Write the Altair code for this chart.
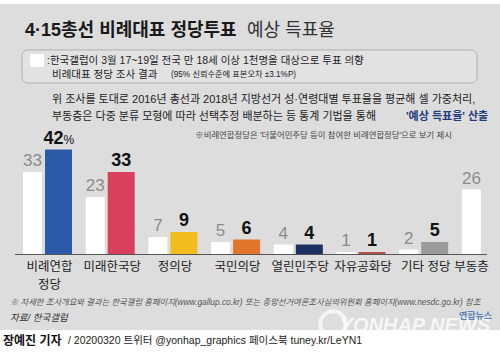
import altair as alt
import pandas as pd

F = "Liberation Sans, Noto Sans CJK KR"

parties = ["비례연합정당", "미래한국당", "정의당", "국민의당", "열린민주당", "자유공화당", "기타 정당", "부동층"]
labels = ["비례연합\n정당", "미래한국당", "정의당", "국민의당", "열린민주당", "자유공화당", "기타 정당", "부동층"]
survey = [33, 23, 7, 5, 4, 1, 2, 26]
forecast = [42, 33, 9, 6, 4, 1, 5, None]
colors = ["#2c5aa8", "#d9405d", "#f3bd1d", "#e2762c", "#1c2f64", "#b4504a", "#9b9b9b", "#ffffff"]
suffix = ["%", "", "", "", "", "", "", ""]

df = pd.DataFrame({"party": parties, "label": labels, "survey": survey,
                   "forecast": forecast, "suffix": suffix})

xs = alt.X("party:N", sort=parties, axis=None,
           scale=alt.Scale(domain=parties, range=[16.15, 517.75], paddingInner=0, paddingOuter=0))
ysc = alt.Scale(domain=[0, 100], range=[254.5, 4.5], nice=False, zero=False)

one = pd.DataFrame({"k": [0]})


def txt(s, x, y, size, color="#222222", align="left", weight="normal", style="normal", baseline="middle", **kw):
    return alt.Chart(one).mark_text(text=s, fontSize=size, color=color, align=align, font=F,
                                    fontWeight=weight, fontStyle=style, baseline=baseline, **kw).encode(
        x=alt.value(x), y=alt.value(y))


bg = alt.Chart(one).mark_rect(color="#dddddd").encode(
    x=alt.value(0), x2=alt.value(500), y=alt.value(4), y2=alt.value(330))
box = alt.Chart(one).mark_rect(fill="#e2e2e2", stroke="#b0b0b0", strokeWidth=1, cornerRadius=6).encode(
    x=alt.value(22), x2=alt.value(477), y=alt.value(50), y2=alt.value(83))
sq = alt.Chart(one).mark_rect(color="#ffffff").encode(
    x=alt.value(30), x2=alt.value(44), y=alt.value(54), y2=alt.value(67))

title1 = txt("4·15총선 비례대표 정당투표", 25, 31, 18, color="#1a1a1a", weight="bold")
title2 = txt("예상 득표율", 247, 31, 18, color="#333333")
leg1 = txt(":한국갤럽이 3월 17~19일 전국 만 18세 이상 1천명을 대상으로 투표 의향", 47, 61, 10.5, color="#222222")
leg2a = txt("비례대표 정당 조사 결과", 52, 75, 10.5, color="#222222")
leg2b = txt("(95% 신뢰수준에 표본오차 ±3.1%P)", 171, 75, 8.2, color="#222222")
par1 = txt("위 조사를 토대로 2016년 총선과 2018년 지방선거 성·연령대별 투표율을 평균해 셀 가중처리,", 52, 100, 11)
par2a = txt("부동층은 다중 분류 모형에 따라 선택추정 배분하는 등 통계 기법을 통해", 52, 117, 11)
par2b = txt("'예상 득표율' 산출", 406, 117, 11, color="#1f3c7e", weight="bold")
note = txt("※비례연합정당은 '더불어민주당 등이 참여한 비례연합정당'으로 보기 제시", 452, 135, 8.4,
           color="#444444", align="right")
foot = txt("※ 자세한 조사개요와 결과는 한국갤럽 홈페이지(www.gallup.co.kr) 또는 중앙선거여론조사심의위원회 홈페이지(www.nesdc.go.kr) 참조",
           10, 303, 8.3, color="#555555", style="italic")
src = txt("자료/ 한국갤럽", 10, 318, 9.5, color="#333333", style="italic")
ring = alt.Chart(one).mark_point(shape="circle", size=650, filled=False, stroke="#ffffff",
                                 strokeWidth=4, opacity=0.7).encode(x=alt.value(333), y=alt.value(324))
wm = txt("YONHAP NEWS", 490, 326, 20, color="#ffffff", align="right", weight="bold", style="italic",
         opacity=0.75)
wm2 = txt("연합뉴스", 492, 316, 9, color="#3a6db5", align="right", weight="bold", opacity=0.8)
cred1 = txt("장예진 기자", 3, 341, 12, color="#111111", weight="bold")
cred2 = txt("/ 20200320 트위터 @yonhap_graphics  페이스북 tuney.kr/LeYN1", 68, 341, 10.5, color="#222222")

base = alt.Chart(df)

white_bars = base.mark_bar(width=19, xOffset=-15, color="#ffffff").encode(
    x=xs, y=alt.Y("survey:Q", scale=ysc, axis=None))
fc_bars = base.transform_filter("datum.forecast != null").mark_bar(width=27, xOffset=11).encode(
    x=xs, y=alt.Y("forecast:Q", scale=ysc, axis=None),
    color=alt.Color("party:N", scale=alt.Scale(domain=parties, range=colors), legend=None))

axis_line = alt.Chart(one).mark_rule(color="#555555", strokeWidth=1).encode(
    x=alt.value(15), x2=alt.value(487), y=alt.Y(datum=0, scale=ysc))

sv_lab = base.mark_text(xOffset=-15, dy=-2, baseline="bottom", fontSize=17, color="#8c8c8c", font=F).encode(
    x=xs, y=alt.Y("survey:Q", scale=ysc), text="survey:Q")
fc_lab = base.transform_filter("datum.forecast != null && datum.suffix == ''").mark_text(
    xOffset=11, dy=-2, baseline="bottom", fontSize=18, fontWeight="bold", color="#111111", font=F).encode(
    x=xs, y=alt.Y("forecast:Q", scale=ysc), text="forecast:Q")
fc_lab0 = base.transform_filter("datum.suffix != ''").mark_text(
    xOffset=16, dy=-2, baseline="bottom", align="right", fontSize=18, fontWeight="bold",
    color="#111111", font=F).encode(
    x=xs, y=alt.Y("forecast:Q", scale=ysc), text="forecast:Q")
fc_pct = base.transform_filter("datum.suffix != ''").mark_text(
    xOffset=16, dy=-3, baseline="bottom", align="left", fontSize=12,
    color="#111111", font=F).encode(
    x=xs, y=alt.Y("forecast:Q", scale=ysc), text="suffix:N")

cat_lab = base.transform_filter("datum.party != '부동층'").mark_text(
    baseline="top", fontSize=12.5, color="#222222", font=F, lineBreak="\n", lineHeight=18, xOffset=2).encode(
    x=xs, y=alt.value(261), text="label:N")
cat_lab8 = base.transform_filter("datum.party == '부동층'").mark_text(
    baseline="top", fontSize=12.5, color="#222222", font=F, xOffset=-15).encode(
    x=xs, y=alt.value(261), text="label:N")

chart = alt.layer(
    bg, box, sq, title1, title2, leg1, leg2a, leg2b, par1, par2a, par2b, note,
    white_bars, fc_bars, axis_line, sv_lab, fc_lab, fc_lab0, fc_pct, cat_lab, cat_lab8,
    foot, src, ring, wm, wm2, cred1, cred2
).properties(
    width=500, height=352, padding=0, autosize=alt.AutoSizeParams(type="none"), background="#ffffff"
).configure_view(stroke=None)

chart.save("out.html", embed_options={"renderer": "svg", "actions": False})
